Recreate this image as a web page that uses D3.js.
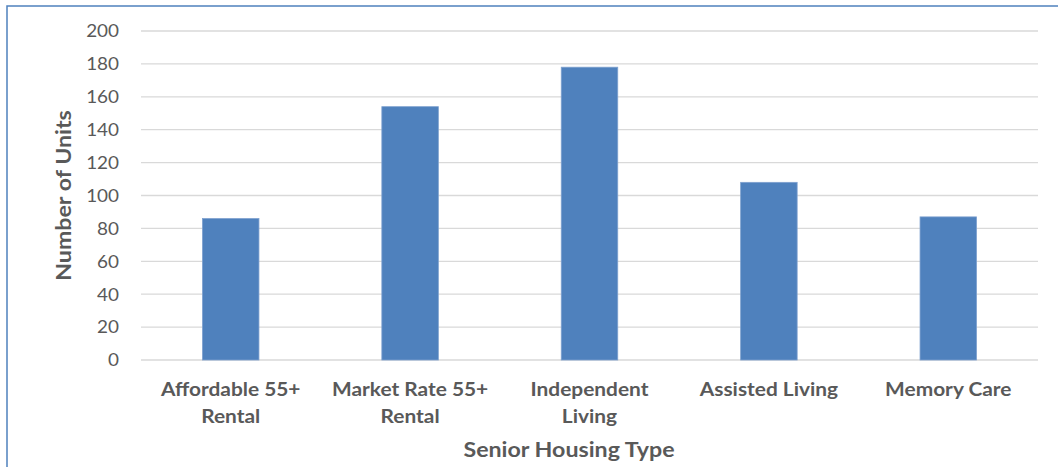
<!DOCTYPE html>
<html>
<head>
<meta charset="utf-8">
<script src="https://cdn.jsdelivr.net/npm/d3@7"></script>
<style>
  body { margin: 0; background: #fff; }
  svg text { font-family: Lato, "Open Sans", sans-serif; }
</style>
</head>
<body>
<div id="chart"></div>
<script>
// data
const categories = [["Affordable 55+", "Rental"], ["Market Rate 55+", "Rental"], ["Independent", "Living"], ["Assisted Living"], ["Memory Care"]];
const units = [86, 154, 178, 108, 87];
const yTicks = [0, 20, 40, 60, 80, 100, 120, 140, 160, 180, 200];

const width = 1058, height = 467;
const margin = { left: 141, right: 20, top: 31, bottom: 107 };
// Calibri-like text is wider than Lato at the same height
const tickStretch = 1.05;
const labelStretch = 1.16;

const svg = d3.select("#chart").append("svg")
  .attr("width", width)
  .attr("height", height);

// chart area frame
svg.append("rect")
  .attr("x", 7).attr("y", 6)
  .attr("width", 1060).attr("height", 480)
  .attr("fill", "none")
  .attr("stroke", "#4F81BD")
  .attr("stroke-width", 1.5);

const keys = categories.map(c => c.join(" "));

const x = d3.scaleBand()
  .domain(keys)
  .range([margin.left, width - margin.right])
  .paddingInner(0.685)
  .paddingOuter(0.3425);

const y = d3.scaleLinear()
  .domain([0, 200])
  .range([height - margin.bottom, margin.top]);

// gridlines
svg.append("g")
  .selectAll("line")
  .data(yTicks)
  .enter()
  .append("line")
  .attr("x1", margin.left)
  .attr("x2", width - margin.right)
  .attr("y1", d => y(d))
  .attr("y2", d => y(d))
  .attr("stroke", "#d9d9d9")
  .attr("stroke-width", 1.3);

// y tick labels
svg.append("g")
  .selectAll("text")
  .data(yTicks)
  .enter()
  .append("text")
  .attr("transform", d => `translate(119, ${y(d)}) scale(${tickStretch}, 1)`)
  .attr("dy", "0.35em")
  .attr("text-anchor", "end")
  .style("font-size", "18px")
  .attr("fill", "#595959")
  .text(d => d);

// bars
svg.append("g")
  .selectAll("rect")
  .data(units)
  .enter()
  .append("rect")
  .attr("x", (d, i) => x(keys[i]))
  .attr("y", d => y(d))
  .attr("width", x.bandwidth())
  .attr("height", d => y(0) - y(d))
  .attr("fill", "#4F81BD")
  .attr("stroke", "#7EA1CF")
  .attr("stroke-width", 0.8);

// category labels
const catLabels = svg.append("g")
  .selectAll("text")
  .data(categories)
  .enter()
  .append("text")
  .attr("transform", (d, i) => `translate(${x(keys[i]) + x.bandwidth() / 2}, 396) scale(${labelStretch}, 1)`)
  .attr("text-anchor", "middle")
  .style("font-size", "18px")
  .style("font-weight", "bold")
  .attr("fill", "#595959");

catLabels.selectAll("tspan")
  .data(d => d)
  .enter()
  .append("tspan")
  .attr("x", 0)
  .attr("dy", (d, i) => i === 0 ? 0 : 27)
  .text(d => d);

// axis titles
svg.append("text")
  .attr("transform", `translate(569, 457) scale(${labelStretch}, 1)`)
  .attr("text-anchor", "middle")
  .style("font-size", "20px")
  .style("font-weight", "bold")
  .attr("fill", "#595959")
  .text("Senior Housing Type");

svg.append("text")
  .attr("transform", `translate(71, ${(y(0) + y(200)) / 2}) rotate(-90) scale(${labelStretch}, 1)`)
  .attr("text-anchor", "middle")
  .style("font-size", "20px")
  .style("font-weight", "bold")
  .attr("fill", "#595959")
  .text("Number of Units");
</script>
</body>
</html>
